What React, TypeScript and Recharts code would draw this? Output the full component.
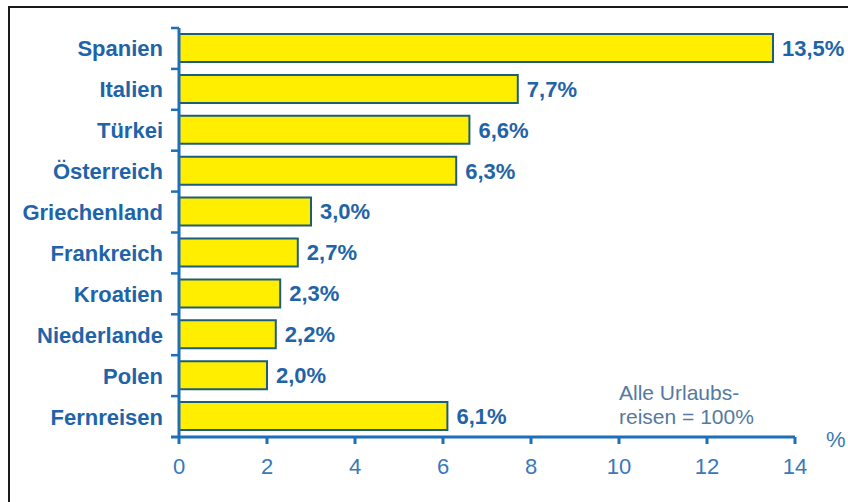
import React from "react";
import { BarChart, Bar, XAxis, YAxis, LabelList } from "recharts";

const countries = [
  "Spanien",
  "Italien",
  "Türkei",
  "Österreich",
  "Griechenland",
  "Frankreich",
  "Kroatien",
  "Niederlande",
  "Polen",
  "Fernreisen",
];
const shares = [13.5, 7.7, 6.6, 6.3, 3.0, 2.7, 2.3, 2.2, 2.0, 6.1];
const xTicks = [0, 2, 4, 6, 8, 10, 12, 14];
const noteLines = ["Alle Urlaubs-", "reisen = 100%"];

const data = countries.map((name, i) => ({ name, value: shares[i] }));

const BLUE = "#1f64a8";
const AXIS = "#1f6fb8";
const FONT = "Arial, 'Liberation Sans', sans-serif";
const BAND = (437 - 28) / countries.length;

const fmt = (v: number) => v.toFixed(1).replace(".", ",") + "%";

function CountryTick(props: any) {
  const { x, y, payload, index } = props;
  const ax = x + 16;
  return (
    <g>
      <text
        x={x}
        y={y}
        dy={8}
        textAnchor="end"
        fontFamily={FONT}
        fontWeight="bold"
        fontSize={22}
        fill={BLUE}
      >
        {payload.value}
      </text>
      <line x1={ax - 8} x2={ax} y1={y - BAND / 2} y2={y - BAND / 2} stroke={AXIS} strokeWidth={2.5} />
      {index === countries.length - 1 && (
        <line x1={ax - 8} x2={ax} y1={y + BAND / 2} y2={y + BAND / 2} stroke={AXIS} strokeWidth={3} />
      )}
    </g>
  );
}

export default function App() {
  return (
    <div
      style={{
        position: "absolute",
        left: 0,
        top: 0,
        width: 848,
        height: 502,
        overflow: "hidden",
        background: "#fff",
      }}
    >
      <div
        style={{
          position: "absolute",
          left: 8,
          top: 6,
          width: 900,
          height: 600,
          border: "2px solid #1a1a1a",
        }}
      />
      <div style={{ position: "absolute", left: 0, top: 0 }}>
        <BarChart
          width={848}
          height={502}
          data={data}
          layout="vertical"
          margin={{ top: 28, right: 53, bottom: 0, left: 0 }}
          barCategoryGap={0}
        >
          <XAxis
            type="number"
            domain={[0, 14]}
            ticks={xTicks}
            height={65}
            axisLine={{ stroke: AXIS, strokeWidth: 3 }}
            tickLine={{ stroke: AXIS, strokeWidth: 3 }}
            tickSize={7}
            tickMargin={14}
            tick={{ fill: "#3a78b8", fontSize: 22, fontFamily: FONT }}
          />
          <YAxis
            type="category"
            dataKey="name"
            width={179}
            axisLine={{ stroke: AXIS, strokeWidth: 3 }}
            tickLine={false}
            tickSize={0}
            tickMargin={16}
            interval={0}
            tick={<CountryTick />}
          />
          <Bar
            dataKey="value"
            fill="#ffee00"
            stroke="#1e5d78"
            strokeWidth={2}
            barSize={28}
            isAnimationActive={false}
          >
            <LabelList
              dataKey="value"
              position="right"
              offset={9}
              formatter={(v: any) => fmt(Number(v))}
              fill={BLUE}
              fontFamily={FONT}
              fontWeight="bold"
              fontSize={22}
            />
          </Bar>
          <text fontFamily={FONT} fontSize={21} fill="#55799f">
            <tspan x={619} y={400}>{noteLines[0]}</tspan>
            <tspan x={619} y={424}>{noteLines[1]}</tspan>
          </text>
          <text x={826} y={447} fontFamily={FONT} fontSize={22} fill="#3a78b8">
            %
          </text>
        </BarChart>
      </div>
    </div>
  );
}
